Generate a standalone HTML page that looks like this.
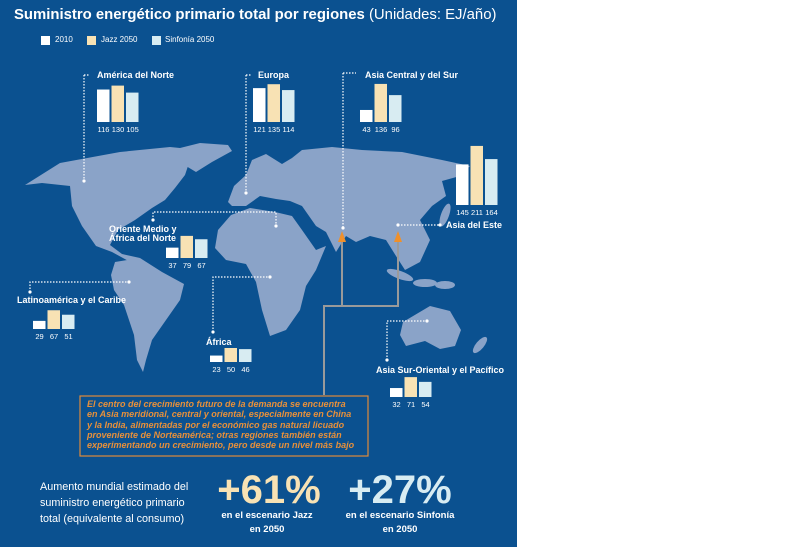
<!DOCTYPE html>
<html><head><meta charset="utf-8"><style>
body{margin:0;width:800px;height:547px;background:#fff;overflow:hidden;font-family:"Liberation Sans",sans-serif}
#p{position:absolute;left:0;top:0;width:517px;height:547px;background:#0b5190}
.t{position:absolute;color:#fff;font-weight:bold;font-size:9px;white-space:nowrap}
.n{position:absolute;color:#fff;font-size:7.5px;white-space:nowrap}
</style></head><body>
<div id="p">
<svg width="517" height="547" style="position:absolute;left:0;top:0">
<g fill="#8aa3c8">
<polygon points="25,185 60,163 120,152 170,147 200,150 190,160 185,175 175,188 165,200 152,208 135,220 118,230 110,245 122,254 140,258 132,263 112,252 96,246 82,226 72,206 70,186 42,183"/>
<polygon points="172,150 200,143 228,145 232,151 212,162 196,172 186,166"/>
<polygon points="115,262 140,258 162,272 184,284 180,300 166,320 152,340 146,360 143,372 137,360 134,335 124,305 114,290 111,275"/>
<polygon points="228,202 234,186 246,175 252,160 266,154 282,164 292,158 302,150 332,147 362,150 402,152 442,160 470,166 460,176 442,181 446,196 432,206 420,220 430,240 420,262 405,270 396,256 386,240 370,236 356,242 346,236 336,252 326,232 316,226 302,206 290,201 276,199 260,196 246,206 232,206"/>
<polygon points="218,230 231,215 250,208 275,212 292,216 302,230 316,250 326,246 316,270 306,286 300,310 286,330 270,336 262,310 256,282 246,264 226,260 215,248"/>
<polygon points="403,322 430,306 450,311 461,330 455,346 440,349 425,341 406,346 400,335"/>
<ellipse cx="400" cy="275" rx="14" ry="4" transform="rotate(20 400 275)"/>
<ellipse cx="425" cy="283" rx="12" ry="4"/>
<ellipse cx="445" cy="285" rx="10" ry="4"/>
<ellipse cx="480" cy="345" rx="4" ry="10" transform="rotate(40 480 345)"/>
<ellipse cx="445" cy="215" rx="4" ry="12" transform="rotate(20 445 215)"/>
</g>
<g stroke="#fff" stroke-width="1.2" stroke-dasharray="1.5,1.5" fill="none">
<path d="M84 75V181M84 75H90"/>
<path d="M246 75V193M246 75H252"/>
<path d="M343 73V228M343 73H356"/>
<path d="M153 220V212H276V226"/>
<path d="M398 225H440"/>
<path d="M30 292V282H129"/>
<path d="M213 332V277H270"/>
<path d="M387 360V321H427"/>
</g>
<g fill="#fff"><circle cx="84" cy="181" r="1.6"/><circle cx="246" cy="193" r="1.6"/><circle cx="343" cy="228" r="1.6"/><circle cx="153" cy="220" r="1.6"/><circle cx="276" cy="226" r="1.6"/><circle cx="398" cy="225" r="1.6"/><circle cx="440" cy="225" r="1.6"/><circle cx="30" cy="292" r="1.6"/><circle cx="129" cy="282" r="1.6"/><circle cx="213" cy="332" r="1.6"/><circle cx="270" cy="277" r="1.6"/><circle cx="387" cy="360" r="1.6"/><circle cx="427" cy="321" r="1.6"/></g>
<path d="M324 395V306H398V240M342 306V240" stroke="#9a9a9a" stroke-width="2" fill="none"/>
<polygon points="338,242 342,231 346,242" fill="#f0902a"/>
<polygon points="394,242 398,231 402,242" fill="#f0902a"/>
<rect x="80" y="396" width="288" height="60" fill="#0b5190" stroke="#e08a3a" stroke-width="1.2"/>
<g id="bars"></g>
</svg>
<div class="t" style="left:14px;top:7px;font-size:14.9px">Suministro energético primario total por regiones <span style="font-weight:normal">(Unidades: EJ/año)</span></div>
<div style="position:absolute;left:41px;top:36px;width:9px;height:9px;background:#fff"></div><div class="n" style="left:55px;top:35px;font-size:8px">2010</div>
<div style="position:absolute;left:87px;top:36px;width:9px;height:9px;background:#f8e2b4"></div><div class="n" style="left:101px;top:35px;font-size:8px">Jazz 2050</div>
<div style="position:absolute;left:152px;top:36px;width:9px;height:9px;background:#d8ecf2"></div><div class="n" style="left:165px;top:35px;font-size:8px">Sinfonía 2050</div>
<div class="t" style="left:97px;top:70px">América del Norte</div>
<div class="t" style="left:258px;top:70px">Europa</div>
<div class="t" style="left:365px;top:70px">Asia Central y del Sur</div>
<div class="t" style="left:446px;top:220px">Asia del Este</div>
<div class="t" style="left:109px;top:225px;line-height:9px">Oriente Medio y<br>África del Norte</div>
<div class="t" style="left:17px;top:295px">Latinoamérica y el Caribe</div>
<div class="t" style="left:206px;top:337px">África</div>
<div class="t" style="left:376px;top:365px">Asia Sur-Oriental y el Pacífico</div>
<div style="position:absolute;left:87px;top:399px;color:#e8903a;font-size:9px;font-weight:bold;font-style:italic;line-height:10.3px;white-space:nowrap">El centro del crecimiento futuro de la demanda se encuentra<br>en Asia meridional, central y oriental, especialmente en China<br>y la India, alimentadas por el económico gas natural licuado<br>proveniente de Norteamérica; otras regiones también están<br>experimentando un crecimiento, pero desde un nivel más bajo</div>
<div style="position:absolute;left:40px;top:479px;color:#fff;font-size:10.8px;line-height:16px;white-space:nowrap">Aumento mundial estimado del<br>suministro energético primario<br>total (equivalente al consumo)</div>
<div style="position:absolute;left:212px;top:470px;width:114px;text-align:center;color:#f8e2b4;font-size:40px;font-weight:bold;line-height:40px">+61%</div>
<div style="position:absolute;left:342px;top:470px;width:116px;text-align:center;color:#d8ecf2;font-size:40px;font-weight:bold;line-height:40px">+27%</div>
<div class="t" style="left:205px;top:509px;width:124px;text-align:center;font-size:9.5px;line-height:14px">en el escenario Jazz<br>en 2050</div>
<div class="t" style="left:335px;top:509px;width:130px;text-align:center;font-size:9.5px;line-height:14px">en el escenario Sinfonía<br>en 2050</div>
</div>
<script>
var d=[[97,122,116,130,105],[253,122,121,135,114],[360,122,43,136,96],[456,205,145,211,164],[166,258,37,79,67],[33,329,29,67,51],[210,362,23,50,46],[390,397,32,71,54]];
var c=["#fff","#f8e2b4","#d8ecf2"],s="",h="";
d.forEach(function(r){for(var i=0;i<3;i++){var v=r[2+i],ht=v*0.28,x=r[0]+i*14.5;s+='<rect x="'+x+'" y="'+(r[1]-ht)+'" width="12.5" height="'+ht+'" fill="'+c[i]+'"/>';h+='<div class="n" style="left:'+(x-3)+'px;top:'+(r[1]+3)+'px;width:19px;text-align:center">'+v+'</div>';}});
document.getElementById("bars").innerHTML=s;document.getElementById("p").insertAdjacentHTML("beforeend",h);
</script>
</body></html>
